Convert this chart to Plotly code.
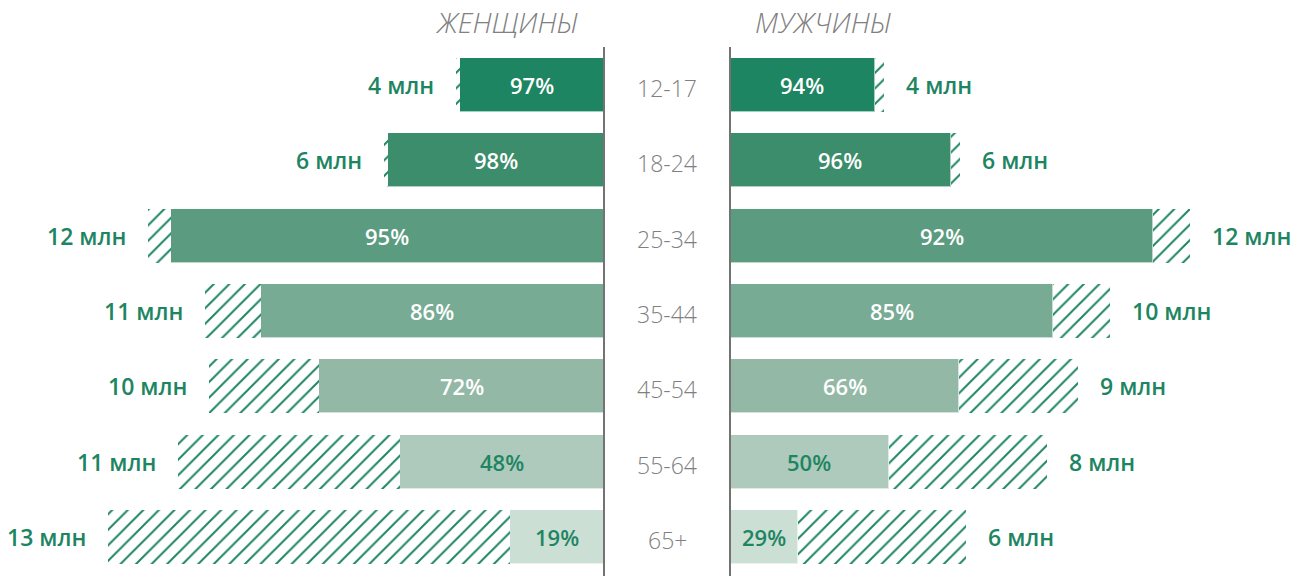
import plotly.graph_objects as go

ages = ["12-17", "18-24", "25-34", "35-44", "45-54", "55-64", "65+"]
women_total = [3.9, 5.8, 12.0, 10.5, 10.4, 11.2, 13.05]
women_pct = [97, 98, 95, 86, 72, 48, 19]
women_labels = ["4 млн", "6 млн", "12 млн", "11 млн", "10 млн", "11 млн", "13 млн"]
men_total = [4.05, 6.05, 12.1, 10.0, 9.15, 8.35, 6.2]
men_pct = [94, 96, 92, 85, 66, 50, 29]
men_labels = ["4 млн", "6 млн", "12 млн", "10 млн", "9 млн", "8 млн", "6 млн"]

colors = ["#1e8562", "#3c8d6b", "#5b9b7f", "#77ab94", "#93b9a6", "#aecabc", "#cbdfd5"]
txt_colors = ["white", "white", "white", "white", "white", "#1e8562", "#1e8562"]
GREEN = "#1e8562"
GREY = "#808080"
FONT = "Open Sans"

W, H = 1298, 576
left_end, right_start = 604, 730
px_per_m = 38.0

idx = list(range(len(ages)))
fig = go.Figure()

def add_side(totals, pcts, xa, ya):
    solid = [t * p / 100 for t, p in zip(totals, pcts)]
    rest = [t - s for t, s in zip(totals, solid)]
    fig.add_trace(go.Bar(y=idx, x=solid, orientation="h", xaxis=xa, yaxis=ya, width=0.72,
                         marker=dict(color=colors, line=dict(color="rgba(255,255,255,0.6)", width=1)),
                         hoverinfo="skip", showlegend=False))
    fig.add_trace(go.Bar(y=idx, x=rest, orientation="h", xaxis=xa, yaxis=ya, width=0.72,
                         marker=dict(color="white", line=dict(width=0),
                                     pattern=dict(shape="/", fgcolor=GREEN, bgcolor="white",
                                                  size=11, solidity=0.18, fillmode="replace")),
                         hoverinfo="skip", showlegend=False))
    return solid

ws = add_side(women_total, women_pct, "x", "y")
ms = add_side(men_total, men_pct, "x2", "y2")

ann = []
for i in idx:
    ann.append(dict(x=ws[i] / 2, y=i, xref="x", yref="y", text=f"{women_pct[i]}%", showarrow=False,
                    font=dict(family=FONT, size=22, color=txt_colors[i], weight=600)))
    ann.append(dict(x=ms[i] / 2, y=i, xref="x2", yref="y2", text=f"{men_pct[i]}%", showarrow=False,
                    font=dict(family=FONT, size=22, color=txt_colors[i], weight=600)))
    ann.append(dict(x=women_total[i], y=i, xref="x", yref="y", text=women_labels[i], showarrow=False,
                    xanchor="right", xshift=-20,
                    font=dict(family=FONT, size=23, color=GREEN, weight=600)))
    ann.append(dict(x=men_total[i], y=i, xref="x2", yref="y2", text=men_labels[i], showarrow=False,
                    xanchor="left", xshift=20,
                    font=dict(family=FONT, size=23, color=GREEN, weight=600)))
    ann.append(dict(x=(left_end + right_start) / 2 / W, y=i, xref="paper", yref="y", text=ages[i],
                    showarrow=False, yshift=-3, xanchor="center",
                    font=dict(family=FONT, size=23, color=GREY, weight=300)))

ann.append(dict(x=507 / W, y=1 - 22 / H, xref="paper", yref="paper", text="ЖЕНЩИНЫ", showarrow=False,
                xanchor="center", yanchor="middle",
                font=dict(family=FONT, size=28, color=GREY, style="italic", weight=300)))
ann.append(dict(x=824 / W, y=1 - 22 / H, xref="paper", yref="paper", text="МУЖЧИНЫ", showarrow=False,
                xanchor="center", yanchor="middle",
                font=dict(family=FONT, size=28, color=GREY, style="italic", weight=300)))

shapes = []
for xp in (left_end, right_start):
    shapes.append(dict(type="line", xref="paper", yref="paper", x0=xp / W, x1=xp / W,
                       y0=0, y1=1 - 47 / H, line=dict(color="#737373", width=2)))

spacing = 75.33
c0 = 85
y_top = -c0 / spacing
y_bot = (H - c0) / spacing

axis_common = dict(showgrid=False, zeroline=False, showticklabels=False, showline=False, fixedrange=True)
fig.update_layout(
    width=W, height=H, margin=dict(l=0, r=0, t=0, b=0),
    paper_bgcolor="white", plot_bgcolor="white", barmode="stack", bargap=0,
    xaxis=dict(domain=[0, left_end / W], range=[left_end / px_per_m, 0], **axis_common),
    xaxis2=dict(domain=[right_start / W, 1], range=[0, (W - right_start) / px_per_m], **axis_common),
    yaxis=dict(range=[y_bot, y_top], **axis_common),
    yaxis2=dict(range=[y_bot, y_top], anchor="x2", **axis_common),
    annotations=ann, shapes=shapes,
)
fig.write_html("out.html", config={"displayModeBar": False},
               post_script="document.body.style.margin='0';document.body.style.overflow='hidden';")
